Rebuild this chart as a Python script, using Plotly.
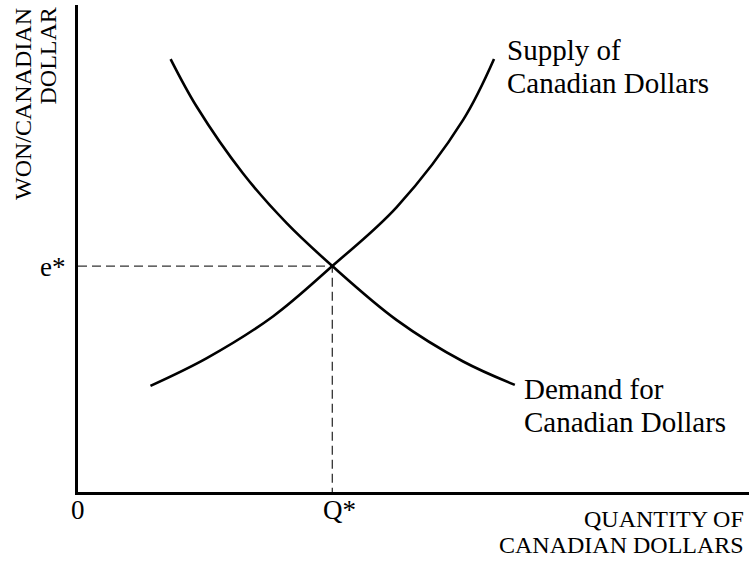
import plotly.graph_objects as go

# curve points (x: quantity, y: won per Canadian dollar, 0-100 scale)
supply_x = [10.8, 19.2, 29.1, 37.9, 47.5, 57.4, 62.0]
supply_y = [21.8, 27.5, 36.1, 46.4, 58.5, 76.4, 88.9]
demand_x = [13.8, 17.7, 24.6, 31.1, 37.9, 47.5, 57.4, 65.1]
demand_y = [88.9, 79.1, 65.4, 55.2, 46.4, 35.3, 26.8, 22.0]

q_star = 37.9
e_star = 46.4

FONT = "Liberation Serif"
W, H = 749, 561
L, R, T, B = 78, 0, 5, 69
PW, PH = W - L - R, H - T - B


def px(x):
    return (x - L) / PW


def py(y):
    return (H - B - y) / PH


fig = go.Figure()

fig.add_trace(go.Scatter(x=[0, q_star, q_star], y=[e_star, e_star, 0], mode="lines",
                         line=dict(color="#333333", width=1.3, dash="9px,5px"),
                         hoverinfo="skip", showlegend=False))
fig.add_trace(go.Scatter(x=supply_x, y=supply_y, mode="lines", name="Supply",
                         line=dict(color="black", width=2.6, shape="spline", smoothing=1.0),
                         showlegend=False))
fig.add_trace(go.Scatter(x=demand_x, y=demand_y, mode="lines", name="Demand",
                         line=dict(color="black", width=2.6, shape="spline", smoothing=1.0),
                         showlegend=False))

ann = []
# curve labels, one annotation per line
for txt, x0, ymid in [("Supply of", 505, 49.5), ("Canadian Dollars", 505, 82.5),
                      ("Demand for", 522, 388.5), ("Canadian Dollars", 522, 421.5)]:
    ann.append(dict(text=txt, x=px(x0), y=py(ymid), xref="paper", yref="paper",
                    xanchor="left", yanchor="middle", showarrow=False,
                    font=dict(family=FONT, size=29, color="black")))
# x axis title
for txt, ymid in [("QUANTITY OF", 519), ("CANADIAN DOLLARS", 545)]:
    ann.append(dict(text=txt, x=px(746), y=py(ymid), xref="paper", yref="paper",
                    xanchor="right", yanchor="middle", showarrow=False,
                    font=dict(family=FONT, size=24, color="black")))
# y axis title (rotated)
for txt, xmid in [("WON/CANADIAN", 23), ("DOLLAR", 48)]:
    ann.append(dict(text=txt, x=px(xmid), y=py(6), xref="paper", yref="paper",
                    xanchor="center", yanchor="top", textangle=-90, showarrow=False,
                    font=dict(family=FONT, size=24, color="black")))
# axis markers: origin, Q*, e*
ann.append(dict(text="0", x=0, y=py(510), xref="x", yref="paper",
                xanchor="center", yanchor="middle", showarrow=False,
                font=dict(family=FONT, size=27, color="black")))
ann.append(dict(text="Q*", x=q_star, y=py(510), xref="x", yref="paper", xshift=-11,
                xanchor="left", yanchor="middle", showarrow=False,
                font=dict(family=FONT, size=27, color="black")))
ann.append(dict(text="e*", x=px(67), y=e_star, xref="paper", yref="y", yshift=-1,
                xanchor="right", yanchor="middle", showarrow=False,
                font=dict(family=FONT, size=27, color="black")))

fig.update_layout(
    width=W, height=H,
    margin=dict(l=L, r=R, t=T, b=B),
    plot_bgcolor="white", paper_bgcolor="white",
    annotations=ann,
)
fig.update_xaxes(range=[0, 100], showgrid=False, zeroline=False, showline=True,
                 linecolor="black", linewidth=2.6, ticks="", showticklabels=False)
fig.update_yaxes(range=[0, 100], showgrid=False, zeroline=False, showline=True,
                 linecolor="black", linewidth=2.6, ticks="", showticklabels=False)

# drop the browser's default body margin so the figure sits at the page corner
fig.write_html("out.html", config={"displayModeBar": False},
               post_script="document.body.style.margin='0';")
